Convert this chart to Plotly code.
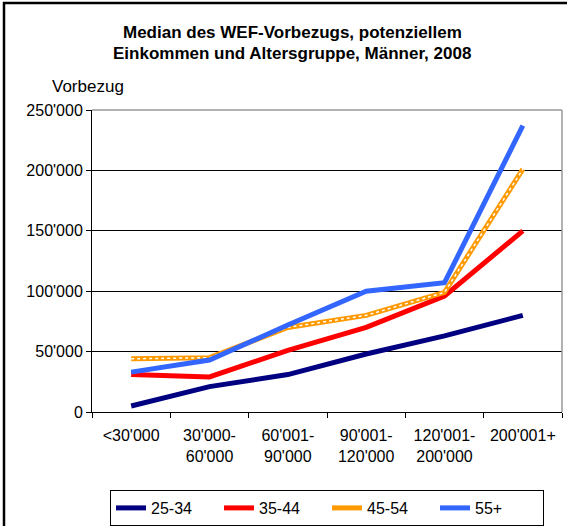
import plotly.graph_objects as go

categories = ["<30'000", "30'000-<br>60'000", "60'001-<br>90'000", "90'001-<br>120'000", "120'001-<br>200'000", "200'001+"]
series_names = ["25-34", "35-44", "45-54", "55+"]
v_25_34 = [5000, 21000, 31000, 48000, 63000, 80000]
v_35_44 = [31000, 29000, 51000, 70000, 96000, 150000]
v_45_54 = [44000, 45000, 70000, 80000, 99000, 201000]
v_55 = [33000, 43000, 72000, 100000, 107000, 237000]
colors = ["#000080", "#FF0000", "#FF9900", "#3366FF"]
y_ticks = [0, 50000, 100000, 150000, 200000, 250000]

FONT = "Liberation Sans, Arial, sans-serif"
fig = go.Figure()
for name, vals, col in zip(series_names, [v_25_34, v_35_44, v_45_54, v_55], colors):
    fig.add_trace(go.Scatter(x=categories, y=vals, name=name, mode="lines",
                             line=dict(color=col, width=5), legendgroup=name))
    if name == "45-54":
        fig.add_trace(go.Scatter(x=categories, y=vals, name=name, mode="lines",
                                 line=dict(color="white", width=1.5, dash="3px,3px"),
                                 showlegend=False, legendgroup=name, hoverinfo="skip"))

PL, PR, PT, PB = 92, 562, 110, 412
W = PR - PL
H = PB - PT

def px(x):
    return (x - PL) / W

def py(y):
    return (PB - y) / H

fig.update_layout(
    width=567, height=526,
    margin=dict(l=PL, r=567 - PR, t=PT, b=526 - PB, autoexpand=False),
    paper_bgcolor="white", plot_bgcolor="white",
    separators=".'",
    font=dict(family=FONT, size=16, color="black"),
    showlegend=True,
    legend=dict(orientation="h", x=px(110), y=py(490), xanchor="left", yanchor="top",
                bordercolor="black", borderwidth=1, font=dict(size=16),
                entrywidth=63, entrywidthmode="pixels", traceorder="normal", tracegroupgap=0),
    xaxis=dict(type="category", showgrid=False, showline=True, linecolor="black", linewidth=1,
               ticks="outside", tickson="boundaries", ticklen=5, tickcolor="black",
               tickfont=dict(size=16), range=[-0.5, 5.5], ticklabelstandoff=9),
    yaxis=dict(range=[0, 250000], tickvals=y_ticks, tickformat=",d", showgrid=True,
               gridcolor="black", gridwidth=1, showline=True, linecolor="black", linewidth=1,
               ticks="outside", ticklen=5, tickcolor="black", tickfont=dict(size=16),
               zeroline=False),
    shapes=[
        dict(type="line", xref="paper", yref="paper", x0=0, x1=1, y0=1, y1=1,
             line=dict(color="#999999", width=1.5)),
        dict(type="line", xref="paper", yref="paper", x0=1, x1=1, y0=0, y1=1,
             line=dict(color="#999999", width=1.5)),
        dict(type="rect", xref="paper", yref="paper", x0=px(4), x1=px(575),
             y0=py(540), y1=py(3), line=dict(color="black", width=2.5)),
    ],
    annotations=[
        dict(text="<b>Median des WEF-Vorbezugs, potenziellem</b>", xref="paper", yref="paper",
             x=px(292), y=py(32), xanchor="center", yanchor="middle",
             showarrow=False, font=dict(size=17)),
        dict(text="<b>Einkommen und Altersgruppe, Männer, 2008</b>", xref="paper", yref="paper",
             x=px(292), y=py(54), xanchor="center", yanchor="middle",
             showarrow=False, font=dict(size=17)),
        dict(text="Vorbezug", xref="paper", yref="paper",
             x=px(50), y=py(87), xanchor="left", yanchor="middle",
             showarrow=False, font=dict(size=17)),
    ],
)
fig.write_html("out.html", config={"displayModeBar": False},
               post_script="document.body.style.margin='0px';")
